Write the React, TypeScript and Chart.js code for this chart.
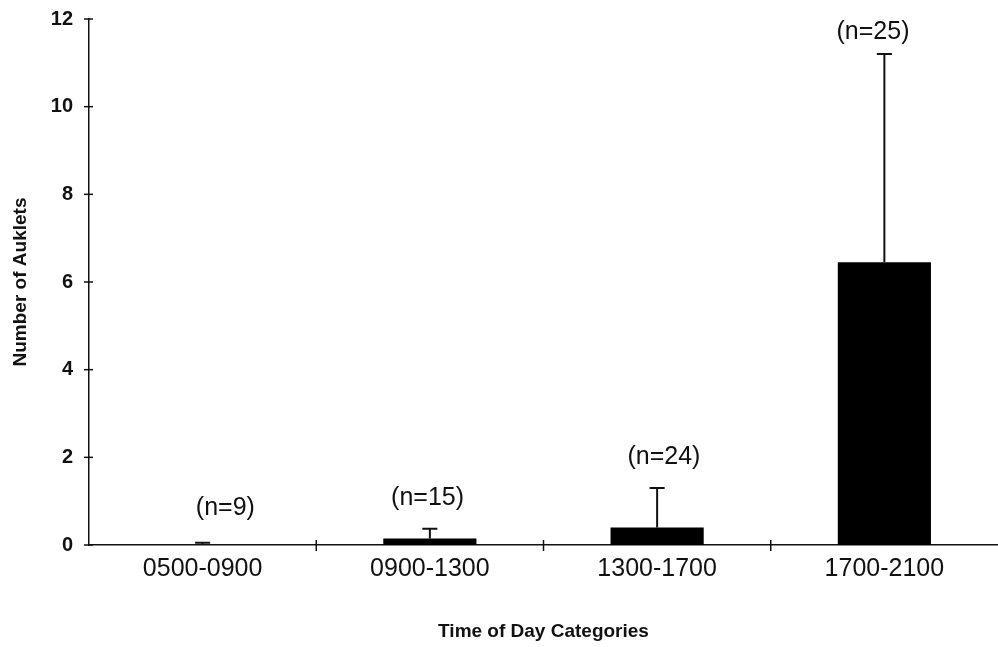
import { useEffect, useRef } from "react";
import { Chart, registerables } from "chart.js";

Chart.register(...registerables);

// ---- data ----
const categories = ["0500-0900", "0900-1300", "1300-1700", "1700-2100"];
const meanAuklets = [0, 0.15, 0.4, 6.45];
const sdAuklets = [0.05, 0.22, 0.9, 4.75];
const sampleSizes = ["(n=9)", "(n=15)", "(n=24)", "(n=25)"];
const yTickValues = [0, 2, 4, 6, 8, 10, 12];

// ---- annotation placement (data units) ----
const noteHeights = [0.84, 1.07, 2.0, 11.7];
const noteShift = [0.1, -0.01, 0.03, -0.05];

const FONT = "'Liberation Sans', Arial, sans-serif";
const INK = "#111";

const decorPlugin = {
  id: "decor",
  afterDatasetsDraw(chart: any) {
    const { ctx, chartArea, scales } = chart;
    const xs = scales.x;
    const ys = scales.y;
    ctx.save();
    ctx.strokeStyle = INK;
    // error bars
    ctx.lineWidth = 2;
    meanAuklets.forEach((m, i) => {
      const x = xs.getPixelForValue(i);
      const yb = ys.getPixelForValue(m);
      const yt = ys.getPixelForValue(m + sdAuklets[i]);
      ctx.beginPath();
      ctx.moveTo(x, yb);
      ctx.lineTo(x, yt);
      ctx.moveTo(x - 7.5, yt);
      ctx.lineTo(x + 7.5, yt);
      ctx.stroke();
    });
    // crossing tick marks
    ctx.lineWidth = 1.5;
    yTickValues.forEach((v) => {
      const y = ys.getPixelForValue(v);
      ctx.beginPath();
      ctx.moveTo(chartArea.left - 5, y);
      ctx.lineTo(chartArea.left + 4, y);
      ctx.stroke();
    });
    for (let i = 1; i < categories.length; i++) {
      const x = (xs.getPixelForValue(i - 1) + xs.getPixelForValue(i)) / 2;
      ctx.beginPath();
      ctx.moveTo(x, chartArea.bottom - 5);
      ctx.lineTo(x, chartArea.bottom + 6);
      ctx.stroke();
    }
    // sample size notes
    ctx.fillStyle = INK;
    ctx.font = `25px ${FONT}`;
    ctx.textAlign = "center";
    ctx.textBaseline = "middle";
    sampleSizes.forEach((t, i) => {
      const x = xs.getPixelForValue(i + noteShift[i]);
      const y = ys.getPixelForValue(noteHeights[i]);
      ctx.fillText(t, x, y);
    });
    ctx.restore();
  },
};

export default function App() {
  const ref = useRef<HTMLCanvasElement | null>(null);
  useEffect(() => {
    if (!ref.current) return;
    const chart = new Chart(ref.current, {
      type: "bar",
      data: {
        labels: categories,
        datasets: [
          {
            data: meanAuklets,
            backgroundColor: "#000",
            borderWidth: 0,
            barPercentage: 0.41,
            categoryPercentage: 1,
          },
        ],
      },
      options: {
        animation: false,
        responsive: true,
        maintainAspectRatio: false,
        layout: { padding: { top: 19, right: 0, left: 0, bottom: 0 } },
        plugins: { legend: { display: false }, tooltip: { enabled: false } },
        scales: {
          x: {
            grid: { display: false, offset: true, drawTicks: false },
            border: { display: true, color: INK, width: 1.5 },
            ticks: { color: INK, font: { family: FONT, size: 25 }, padding: 9, maxRotation: 0 },
            title: {
              display: true,
              text: "Time of Day Categories",
              color: INK,
              font: { family: FONT, size: 19, weight: "bold" },
              padding: { top: 0, bottom: 4 },
            },
            afterFit: (s: any) => {
              s.height = 102;
              s.paddingLeft = 0;
              s.paddingRight = 0;
            },
          },
          y: {
            min: 0,
            max: 12,
            grid: { display: false, drawTicks: false },
            border: { display: true, color: INK, width: 1.5 },
            ticks: { stepSize: 2, color: INK, font: { family: FONT, size: 20, weight: "bold" }, padding: 16 },
            title: {
              display: true,
              text: "Number of Auklets",
              color: INK,
              font: { family: FONT, size: 19, weight: "bold" },
              padding: { top: 9, bottom: 0 },
            },
            afterFit: (s: any) => {
              s.width = 89;
              s.paddingTop = 0;
              s.paddingBottom = 0;
            },
          },
        },
      },
      plugins: [decorPlugin],
    });
    return () => chart.destroy();
  }, []);
  return (
    <div style={{ position: "fixed", left: 0, top: 0, width: 998, height: 647, background: "#fff" }}>
      <canvas ref={ref} />
    </div>
  );
}
